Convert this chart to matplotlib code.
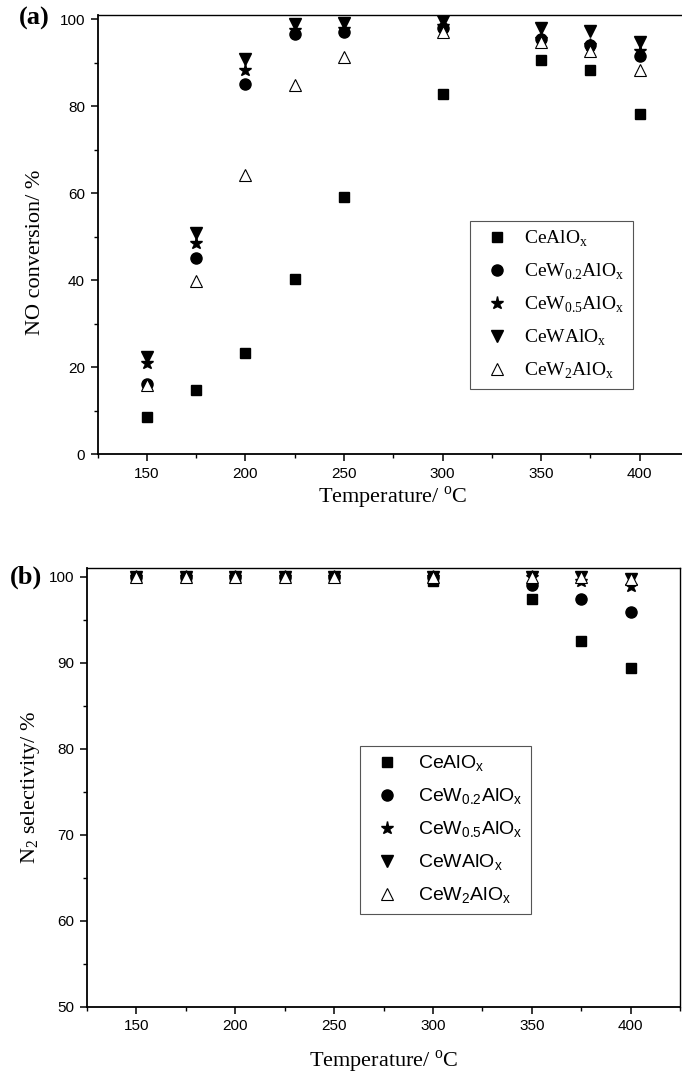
# NO conversion (a) and N2 selectivity (b) vs temperature
import matplotlib
matplotlib.use('Agg')
import matplotlib.pyplot as plt
from matplotlib.ticker import MultipleLocator

# data
temps = [150, 175, 200, 225, 250, 300, 350, 375, 400]
labels_a = ['CeAlO$_\\mathregular{x}$', 'CeW$_\\mathregular{0.2}$AlO$_\\mathregular{x}$',
            'CeW$_\\mathregular{0.5}$AlO$_\\mathregular{x}$', 'CeWAlO$_\\mathregular{x}$',
            'CeW$_\\mathregular{2}$AlO$_\\mathregular{x}$']

# (a) NO conversion / %
conv_ce = [8.5, 14.7, 23.3, 40.2, 59.1, 82.9, 90.6, 88.3, 78.3]
conv_w02 = [16.2, 45.0, 85.2, 96.7, 97.1, 98.0, 95.5, 94.0, 91.5]
conv_w05 = [20.9, 48.5, 88.3, 97.5, 97.8, 98.5, 95.5, 94.2, 92.7]
conv_w1 = [22.4, 50.8, 90.8, 99.0, 99.2, 99.6, 98.1, 97.3, 94.9]
conv_w2 = [15.9, 39.9, 64.1, 84.8, 91.3, 97.1, 94.8, 92.7, 88.3]

# (b) N2 selectivity / %
sel_ce = [100, 100, 100, 100, 100, 99.5, 97.4, 92.5, 89.4]
sel_w02 = [100, 100, 100, 100, 100, 100, 99.0, 97.4, 95.9]
sel_w05 = [100, 100, 100, 100, 100, 100, 100, 99.5, 98.9]
sel_w1 = [100, 100, 100, 100, 100, 100, 100, 100, 99.7]
sel_w2 = [100, 100, 100, 100, 100, 100, 100, 100, 99.7]

serif = 'Liberation Serif'
sans = 'Liberation Sans'
plt.rcParams['mathtext.fontset'] = 'custom'
plt.rcParams['mathtext.rm'] = serif

W, H = 682, 1077
fig = plt.figure(figsize=(W / 100, H / 100), dpi=100)

ax1 = fig.add_axes([97.5 / W, 1 - 454 / H, 591.5 / W, 439 / H])
ax2 = fig.add_axes([87 / W, 1 - 1007 / H, 593 / W, 439 / H])

styles = [dict(marker='s', ms=7, mfc='k', mec='k'),
          dict(marker='o', ms=8, mfc='k', mec='k'),
          dict(marker='*', ms=9.5, mfc='k', mec='k'),
          dict(marker='v', ms=8.5, mfc='k', mec='k'),
          dict(marker='^', ms=8.5, mfc='white', mec='k', mew=0.8)]

for ys, lab, st in zip([conv_ce, conv_w02, conv_w05, conv_w1, conv_w2], labels_a, styles):
    ax1.plot(temps, ys, ls='none', label=lab, **st)
for ys, lab, st in zip([sel_ce, sel_w02, sel_w05, sel_w1, sel_w2], labels_a, styles):
    ax2.plot(temps, ys, ls='none', label=lab, **st)

ax1.set_xlim(125, 425)
ax1.set_ylim(0, 101)
ax1.yaxis.set_major_locator(MultipleLocator(20))
ax1.yaxis.set_minor_locator(MultipleLocator(10))
ax2.set_xlim(125, 425)
ax2.set_ylim(50, 101)
ax2.yaxis.set_major_locator(MultipleLocator(10))
ax2.yaxis.set_minor_locator(MultipleLocator(5))

for ax in (ax1, ax2):
    ax.xaxis.set_major_locator(MultipleLocator(50))
    ax.xaxis.set_minor_locator(MultipleLocator(25))
    ax.tick_params(which='major', direction='out', length=5, width=1.1, labelsize=11, pad=4)
    ax.tick_params(which='minor', direction='out', length=3, width=1.0)
    for lbl in ax.get_xticklabels() + ax.get_yticklabels():
        lbl.set_fontfamily(sans)
    ax.spines['left'].set_linewidth(1.3)
    ax.spines['bottom'].set_linewidth(1.3)
    ax.spines['top'].set_linewidth(1.0)
    ax.spines['right'].set_linewidth(1.0)
    ax.set_xlabel('Temperature/ $^\\mathregular{o}$C', family=serif, fontsize=16)

ax1.xaxis.set_label_coords(0.5, -0.07)
ax2.xaxis.set_label_coords(0.5, -0.095)

ax1.set_ylabel('NO conversion/ %', family=serif, fontsize=16)
ax1.yaxis.set_label_coords(-0.088, 0.46)
ax2.set_ylabel('N$_\\mathregular{2}$ selectivity/ %', family=serif, fontsize=16)
ax2.yaxis.set_label_coords(-0.076, 0.5)

fig.text(34 / W, 1 - 18 / H, '(a)', family=serif, weight='bold', fontsize=19,
         ha='center', va='center')
fig.text(26 / W, 1 - 577 / H, '(b)', family=serif, weight='bold', fontsize=19,
         ha='center', va='center')

leg1 = ax1.legend(loc='upper left', bbox_to_anchor=(470 / W, 1 - 221 / H),
                  bbox_transform=fig.transFigure, borderaxespad=0,
                  prop={'family': serif, 'size': 14}, fancybox=False,
                  edgecolor='#555555', framealpha=1, handlelength=2.0,
                  handletextpad=0.4, labelspacing=0.65, borderpad=0.4)
leg1.get_frame().set_linewidth(0.8)

# labels of panel (b) use the sans font
plt.rcParams['mathtext.rm'] = sans
leg2 = ax2.legend(loc='upper left', bbox_to_anchor=(360 / W, 1 - 746 / H),
                  bbox_transform=fig.transFigure, borderaxespad=0,
                  prop={'family': sans, 'size': 14}, fancybox=False,
                  edgecolor='#555555', framealpha=1, handlelength=2.0,
                  handletextpad=0.6, labelspacing=0.65, borderpad=0.4)
leg2.get_frame().set_linewidth(0.8)

fig.savefig('out.png', dpi=100)
